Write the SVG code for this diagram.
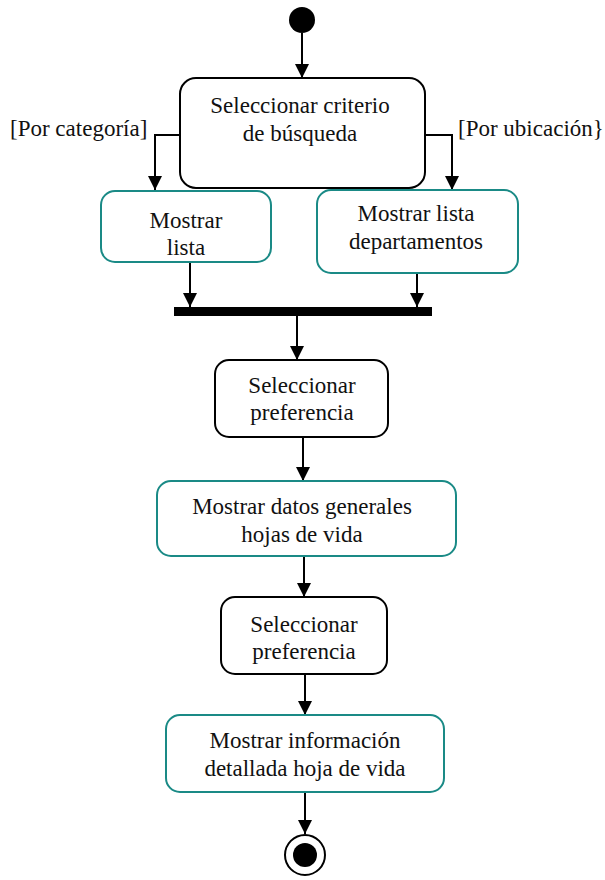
<svg xmlns="http://www.w3.org/2000/svg" width="605" height="880" viewBox="0 0 605 880">
<defs>
<marker id="ah" viewBox="0 0 10 10" refX="10" refY="5" markerWidth="14" markerHeight="14" markerUnits="userSpaceOnUse" orient="auto">
<path d="M0,0 L10,5 L0,10 z" fill="#000"/>
</marker>
<style>
.t{font-family:"Liberation Serif","Times New Roman",serif;font-size:23px;fill:#111;text-anchor:middle}
.lb{font-family:"Liberation Serif","Times New Roman",serif;font-size:23px;fill:#111}
.bk{fill:#fff;stroke:#000;stroke-width:2}
.tl{fill:#fff;stroke:#1a8a86;stroke-width:2}
.c{fill:none;stroke:#000;stroke-width:2;marker-end:url(#ah)}
</style>
</defs>
<rect width="605" height="880" fill="#fff"/>
<g id="connectors">
<path class="c" d="M302,33 V78"/>
<path class="c" d="M180,135 H155 V190"/>
<path class="c" d="M425,135 H452 V190"/>
<path class="c" d="M190,262 V307"/>
<path class="c" d="M417,273 V307"/>
<path class="c" d="M297,316 V360"/>
<path class="c" d="M303,437 V481"/>
<path class="c" d="M304,556 V597"/>
<path class="c" d="M305,674 V715"/>
<path class="c" d="M305,792 V834"/>
<text class="lb" x="10" y="136">[Por categoría]</text>
<text class="lb" x="458" y="136">[Por ubicación}</text>
</g>
<g id="start"><circle cx="302" cy="20" r="13" fill="#000"/></g>
<g id="n1"><rect class="bk" x="180" y="78" width="245" height="110" rx="16"/>
<text class="t" x="300" y="113">Seleccionar criterio</text><text class="t" x="300" y="141">de búsqueda</text></g>
<g id="n2"><rect class="tl" x="101" y="191" width="170" height="71" rx="14"/>
<text class="t" x="186" y="228">Mostrar</text><text class="t" x="186" y="255">lista</text></g>
<g id="n3"><rect class="tl" x="317" y="190" width="201" height="83" rx="14"/>
<text class="t" x="416" y="221">Mostrar lista</text><text class="t" x="416" y="249">departamentos</text></g>
<g id="bar"><rect x="174" y="307" width="258" height="9" fill="#000"/></g>
<g id="n4"><rect class="bk" x="215" y="360" width="173" height="77" rx="14"/>
<text class="t" x="302" y="393">Seleccionar</text><text class="t" x="302" y="420">preferencia</text></g>
<g id="n5"><rect class="tl" x="157" y="481" width="299" height="75" rx="14"/>
<text class="t" x="302" y="514">Mostrar datos generales</text><text class="t" x="302" y="542">hojas de vida</text></g>
<g id="n6"><rect class="bk" x="221" y="597" width="166" height="77" rx="14"/>
<text class="t" x="304" y="632">Seleccionar</text><text class="t" x="304" y="659">preferencia</text></g>
<g id="n7"><rect class="tl" x="166" y="715" width="278" height="77" rx="14"/>
<text class="t" x="305" y="748">Mostrar información</text><text class="t" x="305" y="776">detallada hoja de vida</text></g>
<g id="end"><circle cx="305" cy="855" r="20" fill="#fff" stroke="#000" stroke-width="2"/><circle cx="305" cy="855" r="12" fill="#000"/></g>
</svg>
